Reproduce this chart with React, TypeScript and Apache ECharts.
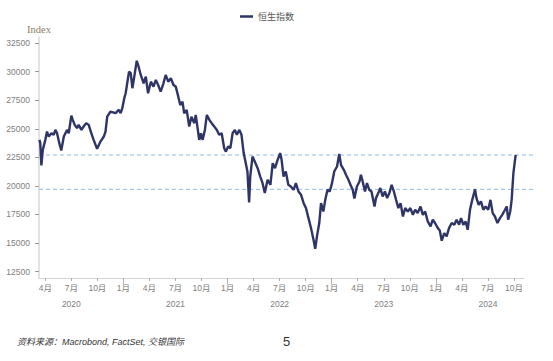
import React, { useEffect, useRef } from "react";
import * as echarts from "echarts";

const SERIES_NAME = "恒生指数";

const DATES = [
  "2020-03-11","2020-03-14","2020-03-18","2020-03-23","2020-04-01","2020-04-07","2020-04-13","2020-04-22","2020-04-30",
  "2020-05-06","2020-05-12","2020-05-20","2020-05-27","2020-06-05","2020-06-16","2020-06-22","2020-07-01","2020-07-06",
  "2020-07-13","2020-07-21","2020-07-27","2020-08-06","2020-08-14","2020-08-23","2020-09-01","2020-09-10","2020-09-18",
  "2020-09-30","2020-10-12","2020-10-24","2020-10-30","2020-11-05","2020-11-16","2020-12-04","2020-12-15","2020-12-22",
  "2020-12-28","2021-01-04","2021-01-09","2021-01-21","2021-01-27","2021-02-02","2021-02-08","2021-02-16","2021-02-22",
  "2021-03-01","2021-03-11","2021-03-19","2021-03-27","2021-04-06","2021-04-15","2021-04-23","2021-05-01","2021-05-10",
  "2021-05-20","2021-05-28","2021-06-06","2021-06-15","2021-06-24","2021-07-02","2021-07-11","2021-07-18","2021-07-26",
  "2021-08-01","2021-08-10","2021-08-19","2021-08-27","2021-09-06","2021-09-11","2021-09-23","2021-09-29","2021-10-05",
  "2021-10-13","2021-10-20","2021-10-29","2021-11-06","2021-11-15","2021-11-24","2021-12-02","2021-12-11","2021-12-20",
  "2021-12-26","2022-01-03","2022-01-11","2022-01-19","2022-01-27","2022-02-03","2022-02-11","2022-02-18","2022-02-25",
  "2022-03-04","2022-03-10","2022-03-16","2022-03-20","2022-03-28","2022-04-05","2022-04-15","2022-04-24","2022-05-02",
  "2022-05-10","2022-05-20","2022-05-30","2022-06-07","2022-06-15","2022-06-24","2022-07-03","2022-07-08","2022-07-15",
  "2022-07-23","2022-08-01","2022-08-10","2022-08-20","2022-08-28","2022-09-06","2022-09-15","2022-09-24","2022-10-02",
  "2022-10-11","2022-10-20","2022-10-29","2022-11-04","2022-11-10","2022-11-18","2022-11-24","2022-12-02","2022-12-09",
  "2022-12-17","2022-12-25","2023-01-02","2023-01-10","2023-01-20","2023-01-28","2023-02-03","2023-02-12","2023-02-19",
  "2023-02-27","2023-03-06","2023-03-14","2023-03-20","2023-03-29","2023-04-07","2023-04-12","2023-04-18","2023-04-26",
  "2023-05-03","2023-05-11","2023-05-19","2023-05-30","2023-06-04","2023-06-12","2023-06-19","2023-06-27","2023-07-05",
  "2023-07-13","2023-07-21","2023-07-29","2023-08-06","2023-08-14","2023-08-22","2023-08-30","2023-09-07","2023-09-15",
  "2023-09-24","2023-10-03","2023-10-12","2023-10-20","2023-10-29","2023-11-08","2023-11-16","2023-11-24","2023-12-03",
  "2023-12-13","2023-12-21","2023-12-29","2024-01-08","2024-01-15","2024-01-22","2024-01-31","2024-02-08","2024-02-16",
  "2024-02-25","2024-03-05","2024-03-13","2024-03-22","2024-03-29","2024-04-06","2024-04-14","2024-04-21","2024-04-29",
  "2024-05-07","2024-05-17","2024-05-22","2024-05-30","2024-06-07","2024-06-15","2024-06-23","2024-07-02","2024-07-10",
  "2024-07-18","2024-07-26","2024-08-04","2024-08-13","2024-08-21","2024-08-31","2024-09-06","2024-09-11","2024-09-18",
  "2024-09-23","2024-09-29","2024-10-07",
];

const HSI = [
  24030,23740,21800,23150,24030,24750,24320,24610,24470,
  24900,24610,23740,23100,24320,24900,24610,26150,25780,
  25340,25050,25340,24900,25200,25490,25340,24610,24030,
  23250,23880,24320,24750,26060,26500,26360,26650,26360,
  26800,27670,28110,30000,29860,28550,29560,30950,30430,
  29710,28980,29560,28110,29120,28690,29270,28830,28250,
  28980,29710,29120,29420,28830,28690,27810,27080,27380,
  26360,26650,25190,26060,25490,26210,24030,24610,24030,
  24900,26210,25780,25490,25190,24900,24470,24610,23300,
  23000,23440,23300,24610,24900,24470,24900,24470,22870,
  21990,21260,18550,20820,22570,22130,21550,20820,20240,
  19370,20530,20100,21990,21550,22280,22870,22280,20820,
  21260,20100,19950,19660,20240,19510,19220,18490,18060,
  17180,16310,15290,14500,15580,16750,18490,17760,18780,
  19660,19510,20240,21260,21700,22800,21840,21410,20970,
  20530,20100,19660,18900,19950,20380,20970,20380,19510,
  20240,19660,19510,18200,18930,19370,19810,19080,19510,
  18930,19370,20100,19510,18780,18060,18490,17320,18060,
  17760,18060,17470,17910,17620,18200,17470,17760,16890,
  16450,17040,16750,16310,16100,15200,15870,15580,16310,
  16750,16600,17040,16600,17180,16600,16890,16160,17910,
  18780,19700,18930,18350,18640,17910,18200,17910,18780,
  17620,17320,16750,17180,17470,17910,18200,17040,17760,
  18780,21110,22720,
];

// reference (dashed) levels
const REF_LEVELS = [22700, 19700];

// y-axis tick labels
const Y_TICKS = [12500, 15000, 17500, 20000, 22500, 25000, 27500, 30000, 32500];
const Y_MIN = 11940;
const Y_MAX = 33030;

// x-axis: months since Jan 2020
const BASE_YEAR = 2020;
const X_MIN = 2.273;
const X_MAX = 58.156;
const QUARTER_TICKS = [3, 6, 9, 12, 15, 18, 21, 24, 27, 30, 33, 36, 39, 42, 45, 48, 51, 54, 57];
const YEAR_TICKS = [12, 24, 36, 48];
const YEAR_LABELS = [6, 18, 30, 42, 54];

function toMonth(s: string): number {
  const [y, mo, d] = s.split("-").map(Number);
  const dim = new Date(y, mo, 0).getDate();
  return (y - BASE_YEAR) * 12 + (mo - 1) + (d - 1) / dim;
}

const SANS = "'Liberation Sans', 'Noto Sans CJK SC', sans-serif";

export default function App() {
  const ref = useRef<HTMLDivElement>(null);
  useEffect(() => {
    if (!ref.current) return;
    const chart = echarts.init(ref.current, undefined, { renderer: "svg" });
    const lineData = DATES.map((d, i) => [toMonth(d), HSI[i]]);
    const refSeries = REF_LEVELS.map((lv, i) => ({
      name: "ref" + i,
      type: "line",
      xAxisIndex: 2,
      yAxisIndex: 1,
      data: [[0, lv], [1, lv]],
      symbol: "none",
      silent: true,
      lineStyle: { color: "#8dbbe6", width: 1, type: [4, 3] },
      z: 1,
    }));
    const labelStyle = { fontSize: 8.5, color: "#808080", fontFamily: SANS };
    chart.setOption({
      animation: false,
      legend: {
        data: [SERIES_NAME],
        left: 235,
        top: 7,
        icon: "rect",
        itemWidth: 13,
        itemHeight: 2.5,
        textStyle: { fontSize: 9, color: "#555", fontFamily: SANS },
      },
      grid: [
        { left: 39, top: 37, width: 485, height: 241, containLabel: false },
        { left: 39, top: 37, width: 496, height: 241, containLabel: false },
      ],
      xAxis: [
        {
          type: "value",
          gridIndex: 0,
          min: X_MIN,
          max: X_MAX,
          axisLine: { show: true, lineStyle: { color: "#d3d3d3", width: 1 } },
          axisTick: { show: true, customValues: QUARTER_TICKS, length: 3, lineStyle: { color: "#b0b0b0" } },
          axisLabel: {
            customValues: QUARTER_TICKS,
            formatter: (v: number) => `${(Math.round(v) % 12) + 1}月`,
            margin: 6,
            ...labelStyle,
          },
          splitLine: { show: false },
        },
        {
          type: "value",
          gridIndex: 0,
          position: "bottom",
          offset: 0,
          min: X_MIN,
          max: X_MAX,
          axisLine: { show: false },
          axisTick: { show: true, customValues: YEAR_TICKS, length: 6, lineStyle: { color: "#b0b0b0" } },
          axisLabel: {
            customValues: YEAR_LABELS,
            formatter: (v: number) => String(BASE_YEAR + Math.floor(v / 12)),
            margin: 22,
            ...labelStyle,
          },
          splitLine: { show: false },
        },
        { type: "value", gridIndex: 1, min: 0, max: 1, show: false },
      ],
      yAxis: [
        {
          type: "value",
          gridIndex: 0,
          min: Y_MIN,
          max: Y_MAX,
          name: "Index",
          nameLocation: "end",
          nameGap: 2,
          nameTextStyle: { fontFamily: "'Liberation Serif', serif", fontSize: 10.5, color: "#8c7d68" },
          axisLine: { show: true, lineStyle: { color: "#dadada", width: 1.5 } },
          axisTick: { show: true, customValues: Y_TICKS, length: 4, lineStyle: { color: "#999" } },
          axisLabel: { customValues: Y_TICKS, margin: 9, formatter: (v: number) => String(v), ...labelStyle },
          splitLine: { show: false },
        },
        { type: "value", gridIndex: 1, min: Y_MIN, max: Y_MAX, show: false },
      ],
      graphic: [
        {
          type: "text",
          left: 17,
          top: 337,
          style: {
            text: "资料来源：Macrobond, FactSet, 交银国际",
            font: "italic 9px 'Liberation Sans', 'Noto Sans CJK SC', sans-serif",
            fill: "#333",
          },
        },
        {
          type: "text",
          left: 283,
          top: 335,
          style: { text: "5", font: "13px 'Liberation Sans', sans-serif", fill: "#333" },
        },
      ],
      series: [
        ...refSeries,
        {
          name: SERIES_NAME,
          type: "line",
          xAxisIndex: 0,
          yAxisIndex: 0,
          data: lineData,
          symbol: "none",
          lineStyle: { color: "#2e3566", width: 2.4 },
          itemStyle: { color: "#2e3566" },
          z: 3,
        },
      ],
    });
    return () => chart.dispose();
  }, []);
  return (
    <div
      ref={ref}
      style={{ position: "fixed", left: 0, top: 0, width: 553, height: 361, background: "#fff" }}
    />
  );
}
